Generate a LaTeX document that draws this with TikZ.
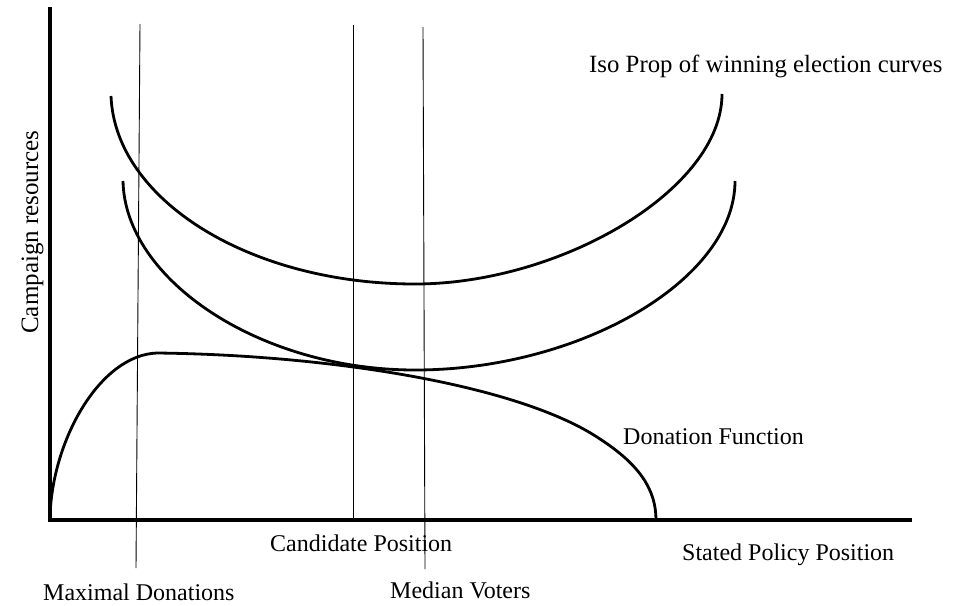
\documentclass[tikz,border=0pt]{standalone}
\usepackage{fontspec}
\setmainfont{Liberation Serif}
\begin{document}
\begin{tikzpicture}[x=1pt,y=-1pt,
  curve/.style={line width=2.8pt},
  axis/.style={line width=3.2pt},
  guide/.style={line width=0.9pt},
  every node/.style={font=\fontsize{24}{28}\selectfont,inner sep=0pt}]
\useasboundingbox (0,0) rectangle (961,605);
% axes
\draw[axis] (50,7) -- (50,520) -- (912,520);
% vertical guides
\foreach \xa/\ya/\xb/\yb in {140/24/136/568, 353/25/353/522, 423/27/425/569}
  \draw[guide] (\xa,\ya) -- (\xb,\yb);
% iso curves
\draw[curve] (111,96) .. controls (115,200) and (250,284) .. (415,284)
  .. controls (560,284) and (722,190) .. (722,94);
\draw[curve] (123,181) .. controls (125,280) and (260,370) .. (415,370)
  .. controls (580,370) and (735,280) .. (735,181);
% donation function
\draw[curve] (50,517) .. controls (52,440) and (100,355) .. (157,353)
  .. controls (330,355) and (520,385) .. (600,439)
  .. controls (640,465) and (656,490) .. (656,520);
% labels
\node[rotate=90,anchor=base,font=\fontsize{25}{28}\selectfont] (res) at (38,232) {Campaign resources};
\node[anchor=base west,font=\fontsize{24.8}{28}\selectfont] (iso) at (589,72) {Iso Prop of winning election curves};
\node[anchor=base west] (don) at (623,444) {Donation Function};
\node[anchor=base west] (cand) at (270,551) {Candidate Position};
\node[anchor=base west] (stated) at (682,560) {Stated Policy Position};
\node[anchor=base west] (maxd) at (43,600) {Maximal Donations};
\node[anchor=base west] (med) at (390,598) {Median Voters};
\end{tikzpicture}
\end{document}
